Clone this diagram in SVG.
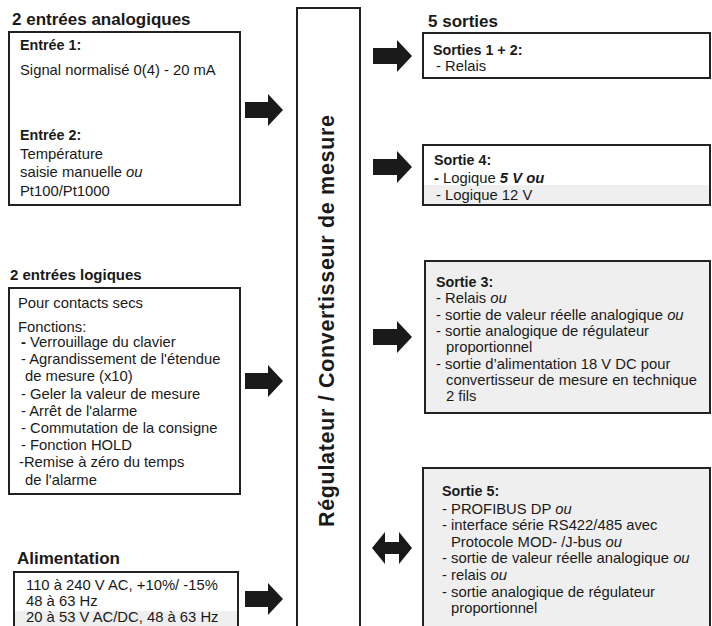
<svg xmlns="http://www.w3.org/2000/svg" width="712" height="626" viewBox="0 0 712 626">
<style>
text{font-family:"Liberation Sans",Arial,Helvetica,sans-serif;fill:#1a1a1a}
.t{font-size:17px;font-weight:bold}
.ts{font-size:15px;font-weight:bold}
.h{font-size:14.3px;font-weight:bold}
.b{font-size:14.8px}
.box{fill:#fff;stroke:#222;stroke-width:2}
.gbox{fill:#efefef;stroke:#222;stroke-width:2}
.band{fill:#efefef}
.arr{fill:#1a1a1a}
.v{font-size:21.5px;font-weight:bold}
</style>
<rect width="712" height="626" fill="#fff"/>

<g id="center">
<rect x="297" y="8" width="63" height="640" class="box"/>
<text class="v" transform="translate(334,527) rotate(-90)" textLength="412" lengthAdjust="spacing">Régulateur / Convertisseur de mesure</text>
</g>

<g id="analog">
<text class="t" x="12" y="25">2 entrées analogiques</text>
<rect x="9" y="32" width="231" height="173" class="box"/>
<text class="h" x="20" y="50">Entrée 1:</text>
<text class="b" x="20" y="75">Signal normalisé 0(4) - 20 mA</text>
<text class="h" x="20" y="140">Entrée 2:</text>
<text class="b" x="20" y="159">Température</text>
<text class="b" x="20" y="177">saisie manuelle <tspan font-style="italic">ou</tspan></text>
<text class="b" x="20" y="196">Pt100/Pt1000</text>
</g>

<g id="logic">
<text class="ts" x="10" y="280">2 entrées logiques</text>
<rect x="9" y="288" width="231" height="206" class="box"/>
<text class="b" x="18" y="308">Pour contacts secs</text>
<text class="b" x="18" y="332">Fonctions:</text>
<text class="b" x="21" y="347"><tspan font-weight="bold">-</tspan> Verrouillage du clavier</text>
<text class="b" x="21" y="364">- Agrandissement de  l'étendue</text>
<text class="b" x="25" y="381">de mesure (x10)</text>
<text class="b" x="21" y="399">- Geler la valeur de mesure</text>
<text class="b" x="21" y="416">- Arrêt de l'alarme</text>
<text class="b" x="21" y="433">- Commutation de la consigne</text>
<text class="b" x="21" y="450">- Fonction HOLD</text>
<text class="b" x="19" y="467">-Remise à zéro du temps</text>
<text class="b" x="25" y="485">de l'alarme</text>
</g>

<g id="power">
<text class="t" x="17" y="564">Alimentation</text>
<rect x="14" y="572" width="224" height="70" class="box"/>
<rect x="15" y="611" width="222" height="16" class="band"/>
<text class="b" x="26" y="590">110 à 240 V AC, +10%/ -15%</text>
<text class="b" x="26" y="606">48 à 63 Hz</text>
<text class="b" x="26" y="622">20 à 53 V AC/DC, 48 à 63 Hz</text>
</g>

<g id="out12">
<text class="t" x="428" y="27">5 sorties</text>
<rect x="423" y="33" width="287" height="45" class="box"/>
<text class="h" x="433" y="55">Sorties 1 + 2:</text>
<text class="b" x="436" y="71">- Relais</text>
</g>

<g id="out4">
<rect x="423" y="145" width="287" height="60" class="box"/>
<rect x="424" y="185" width="285" height="19" class="band"/>
<text class="h" x="434" y="165">Sortie 4:</text>
<text class="b" x="434" y="183"><tspan font-weight="bold">-</tspan> Logique  <tspan font-weight="bold" font-style="italic">5 V ou</tspan></text>
<text class="b" x="436" y="200">- Logique 12 V</text>
</g>

<g id="out3">
<rect x="425" y="261" width="285" height="152" class="gbox"/>
<text class="h" x="436" y="287">Sortie 3:</text>
<text class="b" x="436" y="303">- Relais <tspan font-style="italic">ou</tspan></text>
<text class="b" x="436" y="320">- sortie de valeur réelle analogique <tspan font-style="italic">ou</tspan></text>
<text class="b" x="436" y="336">- sortie analogique de régulateur</text>
<text class="b" x="446" y="352">proportionnel</text>
<text class="b" x="436" y="369">- sortie d’alimentation 18 V DC pour</text>
<text class="b" x="446" y="385">convertisseur de mesure en technique</text>
<text class="b" x="446" y="401">2 fils</text>
</g>

<g id="out5">
<rect x="423" y="468" width="287" height="180" class="gbox"/>
<text class="h" x="442" y="496">Sortie 5:</text>
<text class="b" x="442" y="514">- PROFIBUS DP <tspan font-style="italic">ou</tspan></text>
<text class="b" x="442" y="530">- interface série RS422/485 avec</text>
<text class="b" x="451" y="547">Protocole MOD- /J-bus <tspan font-style="italic">ou</tspan></text>
<text class="b" x="442" y="563">- sortie de valeur réelle analogique <tspan font-style="italic">ou</tspan></text>
<text class="b" x="442" y="580">- relais <tspan font-style="italic">ou</tspan></text>
<text class="b" x="442" y="597">- sortie analogique de régulateur</text>
<text class="b" x="451" y="613">proportionnel</text>
</g>

<g id="connectors">
<polygon class="arr" points="245,102 268,102 268,94 283,110 268,126 268,118 245,118"/>
<polygon class="arr" points="245,373 268,373 268,365 283,381 268,397 268,389 245,389"/>
<polygon class="arr" points="245,591 268,591 268,583 283,599 268,615 268,607 245,607"/>
<polygon class="arr" points="373,48 397,48 397,40 412,56 397,72 397,64 373,64"/>
<polygon class="arr" points="373,159 397,159 397,151 412,167 397,183 397,175 373,175"/>
<polygon class="arr" points="373,329 397,329 397,321 412,337 397,353 397,345 373,345"/>
<polygon class="arr" points="372,548 385,532 385,542 399,542 399,532 412,548 399,564 399,554 385,554 385,564"/>
</g>
</svg>
